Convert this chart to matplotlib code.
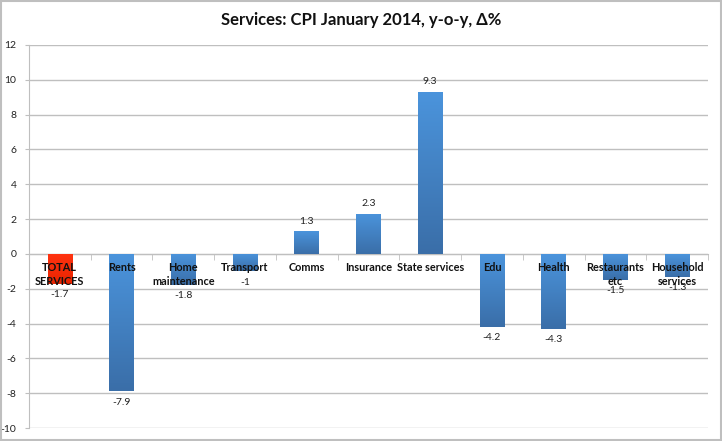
import matplotlib
matplotlib.use("Agg")
import matplotlib.pyplot as plt
import numpy as np
from matplotlib.colors import LinearSegmentedColormap

categories = ["TOTAL\nSERVICES", "Rents", "Home\nmaintenance", "Transport", "Comms",
              "Insurance", "State services", "Edu", "Health", "Restaurants\netc",
              "Household\nservices"]
values = [-1.7, -7.9, -1.8, -1, 1.3, 2.3, 9.3, -4.2, -4.3, -1.5, -1.3]
value_labels = ["-1.7", "-7.9", "-1.8", "-1", "1.3", "2.3", "9.3", "-4.2", "-4.3", "-1.5", "-1.3"]
yticks = list(range(-10, 13, 2))

plt.rcParams['font.family'] = ['Lato', 'DejaVu Sans']

fig = plt.figure(figsize=(7.22, 4.41), dpi=100)
ax = fig.add_axes([29/722, 13/441, (708-29)/722, (428-45)/441])

x = np.arange(len(categories))
colors = ["#FF2A00"] + ["#4A8FD6"] * (len(categories) - 1)
bars = ax.bar(x, values, width=0.4, color=colors, zorder=2)

blue_cmap = LinearSegmentedColormap.from_list("b", ["#3A6EA8", "#4B94DC"])
red_cmap = LinearSegmentedColormap.from_list("r", ["#E82400", "#FF3310"])
grad = np.linspace(0, 1, 256).reshape(-1, 1)
for i, b in enumerate(bars):
    x0, y0 = b.get_x(), b.get_y()
    w, h = b.get_width(), b.get_height()
    lo, hi = min(y0, y0 + h), max(y0, y0 + h)
    cm = red_cmap if i == 0 else blue_cmap
    im = ax.imshow(grad, cmap=cm, aspect='auto', extent=[x0, x0 + w, lo, hi],
                   origin='lower', zorder=2.1, interpolation='bilinear')
    im.set_clip_path(b)

for xi, v, lab in zip(x, values, value_labels):
    if v >= 0:
        ax.annotate(lab, (xi, v), xytext=(0, 4), textcoords='offset points',
                    ha='center', va='bottom', fontsize=7.5, color='#222222', zorder=4)
    else:
        ax.annotate(lab, (xi, v), xytext=(0, -4.5), textcoords='offset points',
                    ha='center', va='top', fontsize=7.5, color='#222222', zorder=4)

ax.set_xlim(-0.5, len(categories) - 0.5)
ax.set_ylim(-10, 12)
ax.set_yticks(yticks)
ax.set_yticklabels([str(t) for t in yticks], fontsize=7.5, color='#222222')
ax.yaxis.grid(True, color='#BFBFBF', linewidth=1, zorder=0)
ax.set_axisbelow(True)

for s in ['top', 'right']:
    ax.spines[s].set_visible(False)
ax.spines['left'].set_color('#BFBFBF')
ax.spines['bottom'].set_position(('data', 0))
ax.spines['bottom'].set_color('#BFBFBF')
ax.spines['bottom'].set_zorder(1)

ax.set_xticks(x)
ax.set_xticklabels(categories, fontsize=7.8, fontweight='bold', color='#111111',
                   linespacing=1.3)
ax.tick_params(axis='x', which='major', length=0, pad=6)
ax.set_xticks(np.arange(-0.5, len(categories), 1), minor=True)
ax.tick_params(axis='x', which='minor', length=4, color='#BFBFBF', direction='out')
ax.tick_params(axis='y', length=3, color='#BFBFBF', pad=6)
for t in ax.get_xticklabels():
    t.set_zorder(5)
ax.xaxis.set_zorder(5)

fig.text(0.5, 1 - 20/441, "Services: CPI January 2014, y-o-y, Δ%", ha='center', va='center',
         fontsize=12, fontweight='bold', color='#111111')

border = plt.Rectangle((0.001, 0.002), 0.997, 0.996, transform=fig.transFigure,
                       fill=False, edgecolor='#BFBFBF', linewidth=1.5)
fig.patches.append(border)

fig.savefig("out.png", dpi=100)
